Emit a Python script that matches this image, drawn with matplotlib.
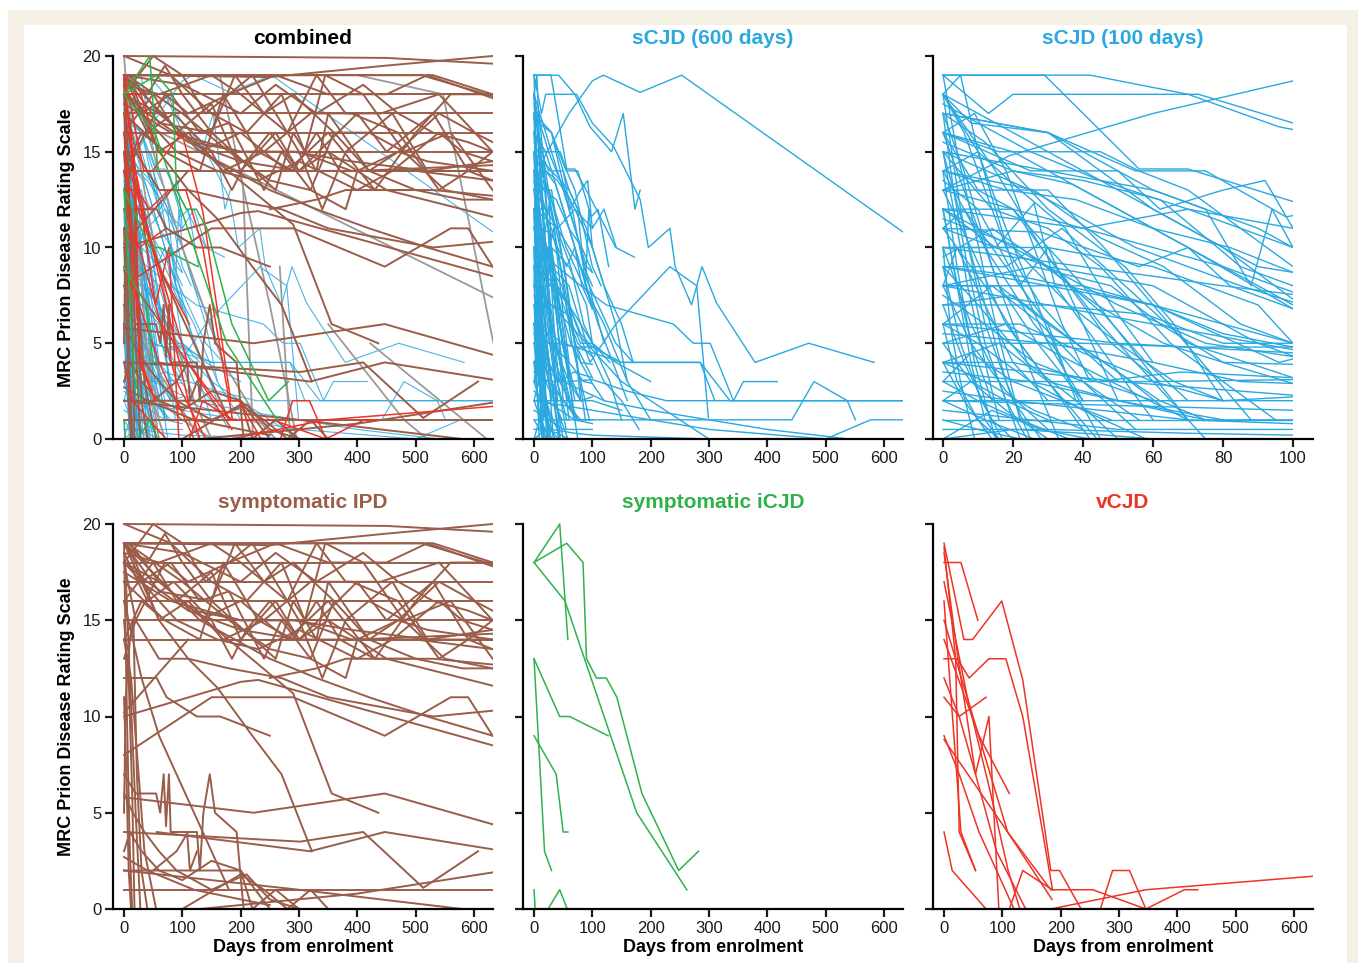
import matplotlib
matplotlib.use("Agg")
import matplotlib.pyplot as plt
from matplotlib.patches import Rectangle
from matplotlib.transforms import Bbox, TransformedBbox

plt.rcParams.update({
    "font.family": ["Liberation Sans", "DejaVu Sans"],
    "font.size": 12,
    "axes.linewidth": 1.6,
    "xtick.major.width": 1.6,
    "ytick.major.width": 1.6,
    "xtick.major.size": 6,
    "ytick.major.size": 6,
    "xtick.labelsize": 12,
    "ytick.labelsize": 12,
})

BROWN = "#9a5d49"
BLUE = "#2aa8df"
GREEN = "#2fb24c"
RED = "#ee3426"
GREY = "#9a9a9a"
BEIGE = "#f4f1e4"

# each trajectory: list of (days from enrolment, MRC scale score)
scjd_lines = [
    [(0, 19), (42, 19), (70, 18), (96, 16.3), (133, 15), (153, 17), (173, 12), (182, 13)],
    [(0, 19), (29, 19), (56, 14.1), (70, 14.1), (100, 12.4), (140, 10), (172, 9.5)],
    [(0, 19), (13, 17), (20, 18), (73, 18), (100, 16.5), (136, 15.3), (182, 12.5), (196, 10),
     (233, 11), (242, 9), (270, 7), (288, 9), (313, 7.1), (379, 4), (471, 5), (583, 4)],
    [(0, 13), (19, 14.8), (60, 17), (100, 18.7), (119, 19), (182, 18.1), (253, 19), (633, 10.8)],
    [(0, 18), (8, 16.5), (30, 16), (60, 12), (90, 9), (100, 8.7)],
    [(0, 18), (15, 14), (28, 10), (45, 6), (60, 3), (75, 0)],
    [(0, 18), (20, 16), (50, 13), (80, 10), (100, 7.3), (120, 5)],
    [(0, 18), (10, 15), (22, 13), (35, 11), (48, 7), (60, 4)],
    [(0, 18), (5, 12), (12, 6), (20, 2), (28, 0)],
    [(0, 17.5), (25, 15), (45, 13.5), (70, 12), (100, 10), (140, 6), (160, 3)],
    [(0, 17), (12, 15.5), (30, 12), (52, 9), (66, 6), (80, 2)],
    [(0, 17), (6, 14), (14, 9), (24, 4), (33, 0)],
    [(0, 17), (30, 16), (55, 14), (75, 14), (98, 11.6), (110, 12), (128, 9)],
    [(0, 16), (16, 15), (45, 15), (56, 14), (70, 13), (85, 11), (100, 9), (115, 8)],
    [(0, 16), (10, 13), (20, 12), (40, 8), (57, 4), (70, 1)],
    [(0, 16), (8, 12), (16, 8), (27, 5), (40, 2)],
    [(0, 16), (25, 14), (50, 14), (62, 12), (80, 13), (92, 13.5), (100, 11)],
    [(0, 15.5), (20, 14), (37, 13.3), (50, 12), (70, 10), (100, 6.8)],
    [(0, 15), (6, 11), (12, 7), (18, 3), (25, 0)],
    [(0, 15), (30, 14), (60, 13), (75, 12), (88, 8), (94, 12), (100, 10)],
    [(0, 15), (14, 12), (30, 11), (45, 9), (65, 5), (80, 3), (95, 1)],
    [(0, 14), (18, 13), (38, 12.5), (60, 11), (82, 10), (100, 8.7)],
    [(0, 14), (12, 10), (26, 6), (40, 3), (55, 0.5)],
    [(0, 14), (4, 9), (9, 4), (15, 0)],
    [(0, 14), (26, 13), (45, 10.5), (63, 9), (85, 6), (100, 5)],
    [(0, 13.5), (10, 12), (22, 8), (30, 10), (40, 6), (50, 2)],
    [(0, 13), (20, 14), (40, 13.5), (62, 12.5), (85, 9), (100, 8)],
    [(0, 13), (8, 10), (18, 6), (30, 3), (44, 0)],
    [(0, 13), (30, 13), (46, 10), (60, 7), (74, 4), (88, 1)],
    [(0, 12), (10, 11), (30, 9), (50, 7), (75, 5), (100, 4.3)],
    [(0, 12), (4, 8), (8, 4), (12, 1), (16, 0)],
    [(0, 12), (20, 12), (36, 8), (48, 5), (62, 3)],
    [(0, 12), (15, 10), (26, 12.3), (32, 8), (48, 4), (60, 1)],
    [(0, 11.5), (22, 10), (44, 7), (63, 5), (80, 4), (100, 2.9)],
    [(0, 11), (12, 8), (22, 5), (34, 2), (42, 0)],
    [(0, 11), (28, 10.8), (56, 9), (70, 10), (82, 8), (100, 6.8)],
    [(0, 11), (6, 12), (18, 9), (30, 6), (38, 2)],
    [(0, 10), (20, 10), (36, 7), (50, 5), (66, 3), (80, 2)],
    [(0, 10), (8, 6), (16, 3), (22, 0)],
    [(0, 10), (30, 10), (60, 9), (90, 7), (100, 5), (130, 3), (150, 1)],
    [(0, 9.5), (14, 11), (30, 9), (46, 6.5), (58, 4), (70, 2)],
    [(0, 9), (10, 7), (24, 4), (38, 2), (50, 0)],
    [(0, 9), (22, 8.5), (40, 7.8), (60, 7), (80, 5.5), (100, 4.8)],
    [(0, 9), (5, 5), (11, 2), (17, 0)],
    [(0, 9), (18, 9), (34, 11), (52, 8), (70, 5), (100, 3.2)],
    [(0, 8), (16, 8), (30, 6), (46, 4), (62, 2), (75, 1)],
    [(0, 8), (8, 5), (18, 2.5), (30, 0.5)],
    [(0, 8), (26, 9), (48, 8), (62, 6), (80, 4), (100, 3.9)],
    [(0, 8), (40, 8), (100, 5), (140, 4), (200, 3)],
    [(0, 7.5), (12, 6), (26, 4), (40, 3), (56, 1)],
    [(0, 7), (20, 7.5), (38, 5), (50, 3.5), (64, 1.5)],
    [(0, 7), (6, 4), (14, 1), (20, 0)],
    [(0, 7), (30, 7), (58, 6.5), (80, 5), (100, 5), (130, 4)],
    [(0, 6), (10, 5), (25, 3), (40, 1.5), (58, 0)],
    [(0, 6), (22, 6), (40, 4.5), (60, 3), (80, 2), (100, 2.2)],
    [(0, 6), (4, 3), (10, 1), (16, 0)],
    [(0, 6), (14, 8), (28, 6), (44, 3), (60, 2)],
    [(0, 5.5), (30, 5), (60, 4), (85, 3), (100, 2.9), (120, 2)],
    [(0, 5), (8, 3), (18, 1.5), (30, 0)],
    [(0, 5), (18, 6), (32, 4.5), (48, 3), (70, 1)],
    [(0, 5), (40, 5), (70, 4.8), (100, 4.8), (150, 4), (233, 4), (285, 4), (310, 2)],
    [(0, 4), (12, 3), (26, 1.5), (40, 0.5)],
    [(0, 4), (20, 4), (44, 3), (68, 3.5), (100, 3.2)],
    [(0, 4), (6, 2), (14, 0)],
    [(0, 4), (16, 5), (30, 3), (50, 2), (80, 1)],
    [(0, 3.5), (25, 3), (50, 2), (75, 1), (100, 1)],
    [(0, 3), (10, 2), (22, 1), (36, 0)],
    [(0, 3), (30, 3), (60, 3), (100, 3.1), (160, 2.5), (227, 2), (633, 2)],
    [(0, 3), (8, 4.5), (20, 3), (34, 2), (48, 1)],
    [(0, 2.5), (20, 2), (45, 1.5), (70, 1), (100, 0.8)],
    [(0, 2), (12, 1), (26, 0)],
    [(0, 2), (30, 2), (60, 2), (100, 2), (150, 1.5)],
    [(0, 2), (8, 3), (18, 2), (30, 1)],
    [(0, 1.5), (25, 1), (50, 0.5), (80, 0.5), (100, 0.5)],
    [(0, 1), (20, 1), (50, 1), (100, 1), (200, 1), (394, 1), (442, 1), (480, 3), (537, 2), (551, 1)],
    [(0, 1), (10, 0.5), (22, 0)],
    [(0, 0.5), (30, 0.5), (70, 0.3), (100, 0.2), (300, 0)],
    [(0, 0), (14, 1.5), (28, 0.5), (42, 0)],
    [(0, 0), (20, 0.5), (40, 0.3), (60, 0)],
    [(0, 12), (40, 11), (70, 12), (100, 11), (120, 12), (141, 10)],
    [(0, 9), (30, 8), (60, 7), (96, 4), (140, 6), (233, 9), (279, 8), (299, 1.1)],
    [(0, 10), (40, 9), (80, 8), (124, 7), (239, 6), (273, 5), (302, 5), (342, 2), (359, 3), (417, 3)],
    [(0, 6), (50, 5), (100, 4.5), (150, 4), (233, 4), (285, 4), (336, 2), (633, 2)],
    [(0, 2), (100, 1.5), (200, 1), (300, 0.5), (500, 0), (577, 1), (633, 1)],
    [(0, 4), (50, 3), (120, 2), (200, 1.5), (300, 1), (400, 0.5), (540, 0)],
    [(0, 8), (30, 7), (60, 6), (90, 5), (150, 3), (250, 1), (300, 0)],
    [(0, 17), (30, 16), (60, 13), (90, 11), (120, 8), (150, 6), (170, 4)],
    [(0, 16), (20, 15), (50, 12), (80, 9), (110, 7), (140, 5), (170, 4)],
    [(0, 15), (25, 13), (55, 10), (85, 8), (120, 6), (160, 3), (200, 1)],
    [(0, 13), (40, 11), (80, 9), (110, 6), (135, 4), (160, 2)],
    [(0, 11), (30, 9), (60, 8), (90, 5), (120, 3), (150, 2), (180, 0.5)],
    [(0, 18), (5, 19), (10, 15), (20, 9), (30, 5), (40, 2)],
    [(0, 19), (4, 15), (9, 11), (15, 6), (22, 1)],
    [(0, 17), (3, 13), (7, 9), (12, 5), (18, 2), (24, 0)],
    [(0, 15), (3, 12), (7, 8), (12, 4), (16, 1)],
    [(0, 18), (6, 16), (12, 13), (18, 10), (28, 7), (38, 5), (50, 3)],
    [(0, 12), (3, 9), (8, 5), (14, 2)],
    [(0, 10), (2, 6), (5, 3), (9, 0)],
    [(0, 14), (10, 15), (18, 11), (27, 7), (36, 3), (45, 0)],
    [(0, 16), (9, 17), (18, 14), (26, 10), (34, 6), (42, 3)],
    [(0, 8), (4, 10), (12, 7), (20, 4), (30, 2)],
]

ipd_lines = [
    [(0, 20), (450, 19.9), (632, 19.6)],
    [(8, 19), (250, 18.9), (450, 19.5), (632, 20)],
    [(0, 19), (530, 19), (632, 18)],
    [(0, 19), (120, 19), (400, 19), (510, 19), (632, 17.9)],
    [(0, 18), (632, 18)],
    [(0, 17), (632, 17)],
    [(0, 16), (632, 16)],
    [(0, 15), (632, 15)],
    [(0, 14), (632, 14)],
    [(0, 1), (632, 1)],
    [(0, 19), (60, 16.5), (150, 16), (260, 13), (290, 16), (330, 14), (350, 17), (420, 14),
     (500, 13), (580, 12.5), (632, 12.5)],
    [(10, 19), (60, 17), (290, 11.2), (356, 6), (436, 5)],
    [(0, 12), (56, 12), (73, 11), (125, 10), (165, 10), (250, 9)],
    [(0, 10), (200, 11.8), (230, 11.9), (632, 8.5)],
    [(0, 8), (150, 11), (290, 11), (447, 9), (560, 11), (590, 11), (632, 9)],
    [(0, 5.8), (222, 5), (447, 6), (632, 4.4)],
    [(0, 4), (302, 3.5), (410, 4), (513, 1.1), (607, 3)],
    [(56, 4), (319, 3), (447, 4), (632, 3.1)],
    [(130, 0), (400, 0.8), (632, 1.9)],
    [(0, 2), (300, 1), (580, 0)],
    [(0, 10.2), (110, 14)],
    [(0, 18), (40, 17), (110, 15.5), (200, 14.5), (300, 14), (400, 14), (632, 14.3)],
    [(5, 19), (100, 17), (180, 15), (250, 13.5), (320, 13), (380, 12), (400, 14), (450, 13), (632, 11.6)],
    [(0, 17.5), (80, 16), (200, 15), (300, 15), (390, 14), (500, 14), (632, 13.5)],
    [(0, 18.5), (60, 18), (150, 19), (200, 18), (280, 16), (330, 19), (380, 17), (440, 17),
     (540, 18), (632, 15)],
    [(0, 18), (50, 20), (100, 19), (140, 17), (220, 19), (260, 17), (300, 15), (340, 12), (380, 15),
     (460, 17), (520, 14), (632, 14.5)],
    [(0, 19), (30, 17), (80, 18), (130, 16), (180, 16.5), (240, 13), (270, 15), (320, 13), (360, 16),
     (420, 16), (480, 15), (560, 16), (632, 13)],
    [(0, 16), (50, 18), (90, 16), (150, 17.5), (200, 14), (260, 16), (300, 14), (400, 17), (450, 15),
     (530, 17), (590, 14), (632, 15)],
    [(0, 18), (90, 15), (160, 14), (230, 13.5), (300, 14.5), (400, 13), (460, 14), (540, 16),
     (580, 15), (632, 14.5)],
    [(0, 19), (100, 18.5), (200, 17), (260, 18.5), (330, 17), (410, 18.5), (470, 17), (530, 16),
     (590, 15.5), (632, 15)],
    [(0, 18), (20, 15), (60, 13), (110, 13), (180, 12.5), (270, 12), (350, 11), (440, 10.5),
     (530, 10), (632, 10.3)],
    [(0, 19), (130, 15), (250, 13), (330, 12), (420, 11), (520, 10), (632, 9)],
    [(0, 17), (70, 15), (130, 14), (170, 18), (230, 15), (290, 14), (330, 16), (370, 14), (430, 13),
     (530, 13), (632, 12.7)],
    [(0, 19), (40, 18), (70, 19.5), (100, 18), (150, 16), (190, 19), (240, 17), (290, 18), (360, 16),
     (420, 14), (470, 15), (540, 17), (600, 16), (632, 15.5)],
    [(0, 18.5), (40, 16), (85, 17), (150, 15), (185, 13), (210, 14.5), (250, 16), (300, 14),
     (350, 15), (400, 14), (470, 15), (520, 14.5), (632, 14)],
    [(15, 18), (60, 15), (110, 16), (170, 14), (240, 15), (320, 17), (390, 17), (470, 16), (540, 13),
     (590, 14), (632, 13.5)],
    [(0, 20), (80, 19), (150, 17), (210, 16), (270, 18), (310, 15), (345, 19), (410, 18), (480, 15),
     (550, 13), (632, 12.5)],
    [(0, 18), (60, 17), (120, 15.5), (200, 15), (290, 15), (390, 14.5), (520, 14), (632, 14)],
    [(250, 12), (330, 12.5), (380, 13), (490, 13)],
    [(0, 14), (30, 16), (70, 15), (130, 15), (200, 16), (280, 14), (350, 16), (430, 13), (500, 16),
     (560, 18), (632, 18)],
    [(0, 13), (20, 15), (70, 18), (110, 17), (180, 18), (260, 19), (350, 18), (450, 18), (520, 19),
     (632, 17.8)],
    [(0, 19), (5, 10), (10, 3), (14, 0)],
    [(0, 15), (8, 12), (14, 6), (18, 0)],
    [(0, 11), (4, 7), (8, 2), (12, 0)],
    [(2, 18), (10, 12), (20, 5), (28, 0)],
    [(0, 5), (3, 11), (10, 14), (16, 15), (22, 7), (30, 2), (40, 0)],
    [(0, 14), (12, 12), (25, 7), (35, 3), (55, 0)],
    [(0, 3), (10, 4), (30, 3), (60, 2), (100, 1.5), (150, 2.5), (200, 2), (250, 0)],
    [(0, 7), (20, 6), (40, 6), (55, 6), (62, 5), (68, 7), (72, 4.3), (77, 7), (80, 4), (108, 4),
     (113, 2), (125, 3)],
    [(50, 2), (90, 3), (110, 4), (125, 4), (130, 2), (136, 5), (147, 7), (156, 5), (193, 4), (205, 0)],
    [(0, 6), (15, 5), (35, 4), (60, 3), (90, 2), (150, 1), (210, 1.8), (250, 0.5), (300, 0)],
    [(0, 2.7), (40, 2), (80, 1.5), (120, 1), (200, 0.5), (250, 0.2)],
    [(0, 2), (200, 2), (220, 0), (260, 1), (300, 0)],
    [(100, 0), (200, 1.8), (240, 1), (280, 0), (320, 1), (350, 0)],
    [(0, 19), (20, 18), (60, 15), (110, 13), (160, 11.5), (220, 9), (270, 7), (322, 3)],
    [(0, 16), (30, 12), (60, 9), (90, 7), (120, 5), (150, 3), (180, 1)],
]

icjd_lines = [
    [(0, 18), (44, 20), (58, 14)],
    [(0, 18), (56, 19), (84, 18), (90, 13), (107, 12), (124, 12), (142, 11), (185, 6), (248, 2), (282, 3)],
    [(0, 18), (53, 16), (176, 5), (262, 1)],
    [(0, 13), (44, 10), (61, 10), (127, 9)],
    [(0, 13), (18, 3), (30, 2)],
    [(0, 9), (38, 7), (50, 4), (58, 4)],
    [(0, 1), (2, 0)],
    [(24, 0), (44, 1), (57, 0)],
]

vcjd_lines = [
    [(0, 18), (29, 18), (58, 15)],
    [(0, 19), (34, 14), (49, 14), (99, 16), (135, 11.9), (183, 2), (198, 2), (235, 0)],
    [(0, 16), (29, 4), (54, 2)],
    [(0, 15), (109, 4), (183, 1), (255, 1), (346, 0), (412, 1), (435, 1)],
    [(0, 14), (60, 9), (112, 6)],
    [(0, 13), (23, 13), (43, 12), (77, 13), (106, 13), (135, 10), (186, 1)],
    [(0, 12), (26, 10), (72, 11)],
    [(0, 11), (26, 10), (54, 7), (77, 10), (94, 0)],
    [(0, 9), (26, 7), (60, 4), (120, 0)],
    [(0, 8.8), (109, 4), (185, 0.5)],
    [(0, 4), (14, 2), (72, 0)],
    [(0, 18.8), (20, 13), (26, 4), (54, 2)],
    [(183, 0), (346, 1), (632, 1.7)],
    [(112, 0), (135, 2), (160, 1.5), (186, 1)],
    [(268, 0), (289, 2), (318, 2), (346, 0)],
    [(0, 18.5), (24, 13), (54, 7), (90, 3), (140, 0)],
    [(0, 17), (40, 11), (80, 6), (110, 2), (130, 0)],
]

# grey series only appears in the combined panel
other_lines = [
    [(56, 16.1), (632, 7.4)],
    [(400, 19), (547, 18), (640, 4)],
    [(422, 5), (622, 0)],
    [(165, 18.9), (204, 13.2), (221, 0.1)],
    [(267, 9), (285, 0)],
    [(0, 20), (15, 14), (30, 8), (45, 3), (60, 0)],
    [(5, 12), (20, 7), (40, 3), (70, 0)],
    [(0, 6), (30, 4), (60, 2), (100, 1), (150, 0)],
    [(200, 13.7), (250, 7), (296, 0)],
    [(10, 18), (40, 12), (80, 6), (120, 2), (150, 0)],
    [(0, 9), (25, 6), (50, 4), (90, 2), (130, 0)],
    [(350, 6), (480, 1), (520, 0)],
    [(30, 17), (100, 10), (170, 4), (230, 1), (260, 0)],
]

W, H = 1358, 963
fig = plt.figure(figsize=(W / 100, H / 100), dpi=100)
fig.patches.append(Rectangle((8 / W, 0), 1 - 8 / W, 1 - 10 / H, transform=fig.transFigure,
                             facecolor=BEIGE, edgecolor="none", zorder=-10))
fig.patches.append(Rectangle((24 / W, 0), (1347 - 24) / W, 1 - 25 / H, transform=fig.transFigure,
                             facecolor="white", edgecolor="none", zorder=-9))

col_left = [113, 523, 933]
row_span = [(56, 439), (524, 909)]


def make_ax(row, col):
    top, bot = row_span[row]
    return fig.add_axes([col_left[col] / W, 1 - bot / H, 380 / W, (bot - top) / H])


def draw(ax, lines, color, lw, xclip, alpha=1.0):
    box = TransformedBbox(Bbox([[-30, -1], [xclip, 21]]), ax.transData)
    for traj in lines:
        days = [p[0] for p in traj]
        score = [p[1] for p in traj]
        ln, = ax.plot(days, score, color=color, lw=lw, alpha=alpha)
        ln.set_clip_box(box)


def style(ax, xlim, xticks, title, tcolor, pad, ylabels, xlabel):
    ax.set_xlim(*xlim)
    ax.set_ylim(0, 20)
    for s in ["top", "right"]:
        ax.spines[s].set_visible(False)
    ax.spines["left"].set_bounds(0, 20)
    ax.set_yticks([0, 5, 10, 15, 20])
    ax.set_xticks(xticks)
    ax.tick_params(direction="out", pad=2.5, colors="#1a1a1a")
    if not ylabels:
        ax.set_yticklabels([])
    else:
        ax.set_ylabel("MRC Prion Disease Rating Scale", fontsize=13, fontweight="bold")
        ax.yaxis.set_label_coords(-0.1, 0.5)
    if xlabel:
        ax.set_xlabel("Days from enrolment", fontsize=13, fontweight="bold", labelpad=2)
    ax.set_title(title, color=tcolor, fontsize=15, fontweight="bold", pad=pad)


long_x = (-18.9, 632.6)
long_ticks = [0, 100, 200, 300, 400, 500, 600]

ax = make_ax(0, 0)
draw(ax, scjd_lines, BLUE, 0.8, long_x[1], alpha=0.85)
draw(ax, other_lines, GREY, 1.3, long_x[1])
draw(ax, ipd_lines, BROWN, 1.4, long_x[1])
draw(ax, vcjd_lines, RED, 1.1, long_x[1])
draw(ax, icjd_lines, GREEN, 1.1, long_x[1])
style(ax, long_x, long_ticks, "combined", "black", 8.5, True, False)

ax = make_ax(0, 1)
draw(ax, scjd_lines, BLUE, 1.0, long_x[1])
style(ax, long_x, long_ticks, "sCJD (600 days)", BLUE, 8.5, False, False)

ax = make_ax(0, 2)
draw(ax, scjd_lines, BLUE, 1.0, 100)
style(ax, (-2.86, 105.7), [0, 20, 40, 60, 80, 100], "sCJD (100 days)", BLUE, 8.5, False, False)

ax = make_ax(1, 0)
draw(ax, ipd_lines, BROWN, 1.4, long_x[1])
style(ax, long_x, long_ticks, "symptomatic IPD", BROWN, 11.5, True, True)

ax = make_ax(1, 1)
draw(ax, icjd_lines, GREEN, 1.1, long_x[1])
style(ax, long_x, long_ticks, "symptomatic iCJD", GREEN, 11.5, False, True)

ax = make_ax(1, 2)
draw(ax, vcjd_lines, RED, 1.1, long_x[1])
style(ax, long_x, long_ticks, "vCJD", RED, 11.5, False, True)

fig.savefig("out.png", dpi=100)
